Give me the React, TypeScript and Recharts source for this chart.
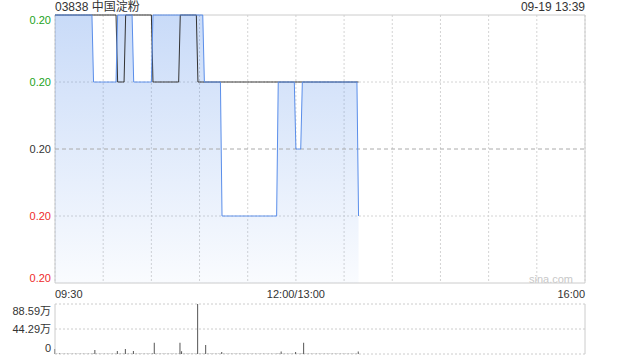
import React from "react";
import {
  ComposedChart,
  Area,
  Line,
  Bar,
  XAxis,
  YAxis,
  CartesianGrid,
  ReferenceLine,
  ReferenceArea,
} from "recharts";

const title = "03838 中国淀粉";
const stamp = "09-19 13:39";
const prevClose = 0.2;

// minutes since 09:30, lunch break removed (330 trading minutes)
const timeTicks = [0, 30, 60, 90, 120, 150, 180, 210, 240, 270, 300, 330];
const timeLabels: Record<number, string> = { 0: "09:30", 150: "12:00/13:00", 330: "16:00" };
const priceTicks = [0.198, 0.199, 0.2, 0.201, 0.202];
const pctTicks = [-1, -0.5, 0, 0.5, 1];
const volTicks = [0, 44.29, 88.59];

// last price per minute
const prices = [
  0.202, 0.202, 0.202, 0.202, 0.202, 0.202, 0.202, 0.202, 0.202, 0.202,
  0.202, 0.202, 0.202, 0.202, 0.202, 0.202, 0.202, 0.202, 0.202, 0.202,
  0.202, 0.202, 0.202, 0.202, 0.201, 0.201, 0.201, 0.201, 0.201, 0.201,
  0.201, 0.201, 0.201, 0.201, 0.201, 0.201, 0.201, 0.201, 0.201, 0.202,
  0.202, 0.202, 0.202, 0.202, 0.202, 0.202, 0.202, 0.202, 0.202, 0.201,
  0.201, 0.201, 0.201, 0.201, 0.201, 0.201, 0.201, 0.201, 0.201, 0.201,
  0.201, 0.202, 0.202, 0.202, 0.202, 0.202, 0.202, 0.202, 0.202, 0.202,
  0.202, 0.202, 0.202, 0.202, 0.202, 0.202, 0.202, 0.202, 0.202, 0.202,
  0.202, 0.202, 0.202, 0.202, 0.202, 0.202, 0.202, 0.202, 0.202, 0.202,
  0.202, 0.202, 0.202, 0.201, 0.201, 0.201, 0.201, 0.201, 0.201, 0.201,
  0.201, 0.201, 0.201, 0.201, 0.199, 0.199, 0.199, 0.199, 0.199, 0.199,
  0.199, 0.199, 0.199, 0.199, 0.199, 0.199, 0.199, 0.199, 0.199, 0.199,
  0.199, 0.199, 0.199, 0.199, 0.199, 0.199, 0.199, 0.199, 0.199, 0.199,
  0.199, 0.199, 0.199, 0.199, 0.199, 0.199, 0.199, 0.199, 0.199, 0.201,
  0.201, 0.201, 0.201, 0.201, 0.201, 0.201, 0.201, 0.201, 0.201, 0.201,
  0.2, 0.2, 0.2, 0.2, 0.201, 0.201, 0.201, 0.201, 0.201, 0.201,
  0.201, 0.201, 0.201, 0.201, 0.201, 0.201, 0.201, 0.201, 0.201, 0.201,
  0.201, 0.201, 0.201, 0.201, 0.201, 0.201, 0.201, 0.201, 0.201, 0.201,
  0.201, 0.201, 0.201, 0.201, 0.201, 0.201, 0.201, 0.201, 0.201, 0.199,
];

// average price per minute
const avgPrices = [
  0.202, 0.202, 0.202, 0.202, 0.202, 0.202, 0.202, 0.202, 0.202, 0.202,
  0.202, 0.202, 0.202, 0.202, 0.202, 0.202, 0.202, 0.202, 0.202, 0.202,
  0.202, 0.202, 0.202, 0.202, 0.202, 0.202, 0.202, 0.202, 0.202, 0.202,
  0.202, 0.202, 0.202, 0.202, 0.202, 0.202, 0.202, 0.202, 0.202, 0.201,
  0.201, 0.201, 0.201, 0.201, 0.202, 0.202, 0.202, 0.202, 0.202, 0.202,
  0.202, 0.202, 0.202, 0.202, 0.202, 0.202, 0.202, 0.202, 0.202, 0.202,
  0.202, 0.201, 0.201, 0.201, 0.201, 0.201, 0.201, 0.201, 0.201, 0.201,
  0.201, 0.201, 0.201, 0.201, 0.201, 0.201, 0.201, 0.201, 0.202, 0.202,
  0.202, 0.202, 0.202, 0.202, 0.202, 0.202, 0.202, 0.202, 0.202, 0.201,
  0.201, 0.201, 0.201, 0.201, 0.201, 0.201, 0.201, 0.201, 0.201, 0.201,
  0.201, 0.201, 0.201, 0.201, 0.201, 0.201, 0.201, 0.201, 0.201, 0.201,
  0.201, 0.201, 0.201, 0.201, 0.201, 0.201, 0.201, 0.201, 0.201, 0.201,
  0.201, 0.201, 0.201, 0.201, 0.201, 0.201, 0.201, 0.201, 0.201, 0.201,
  0.201, 0.201, 0.201, 0.201, 0.201, 0.201, 0.201, 0.201, 0.201, 0.201,
  0.201, 0.201, 0.201, 0.201, 0.201, 0.201, 0.201, 0.201, 0.201, 0.201,
  0.201, 0.201, 0.201, 0.201, 0.201, 0.201, 0.201, 0.201, 0.201, 0.201,
  0.201, 0.201, 0.201, 0.201, 0.201, 0.201, 0.201, 0.201, 0.201, 0.201,
  0.201, 0.201, 0.201, 0.201, 0.201, 0.201, 0.201, 0.201, 0.201, 0.201,
  0.201, 0.201, 0.201, 0.201, 0.201, 0.201, 0.201, 0.201, 0.201, 0.201,
];

// volume per minute, in 万
const volumes = [
  8.9, 0.6, 0.5, 0.7, 0.4, 0.6, 0.5, 0.4, 0.6, 0.5,
  0.5, 0.4, 0.6, 0.5, 0.4, 0.5, 0.6, 0.4, 0.5, 0.6,
  0.4, 0.5, 0.6, 0.5, 0.8, 7.0, 0.5, 0.4, 0.6, 0.5,
  0.5, 0.4, 0.6, 0.5, 0.4, 0.5, 0.6, 0.4, 0.5, 5.3,
  0.5, 0.6, 0.4, 0.5, 9.0, 0.6, 0.5, 0.4, 0.6, 5.3,
  0.5, 0.4, 0.6, 0.5, 0.4, 0.5, 0.6, 0.4, 0.5, 0.6,
  0.4, 0.8, 20.0, 0.5, 0.6, 0.4, 0.5, 0.6, 0.4, 0.5,
  0.6, 0.4, 0.5, 0.6, 0.4, 0.5, 0.6, 0.4, 20.0, 5.0,
  0.5, 0.4, 0.6, 0.5, 0.4, 0.5, 0.6, 0.4, 0.5, 88.59,
  0.6, 0.5, 0.4, 0.6, 16.0, 0.5, 0.4, 0.6, 0.5, 0.4,
  0.5, 0.6, 0.4, 0.5, 3.5, 0.6, 0.4, 0.5, 0.6, 0.4,
  0.5, 0.6, 0.4, 0.5, 0.6, 0.4, 0.5, 0.6, 0.4, 0.5,
  0.6, 0.4, 0.5, 0.6, 0.4, 0.5, 0.6, 0.4, 0.5, 0.6,
  0.4, 0.5, 0.6, 0.4, 0.5, 0.6, 0.4, 0.5, 0.6, 0.8,
  0.5, 4.5, 0.4, 0.6, 0.5, 0.4, 0.6, 0.5, 0.4, 0.6,
  3.5, 0.5, 0.4, 0.6, 0.8, 20.0, 0.5, 0.4, 0.6, 0.5,
  0.4, 0.5, 0.6, 0.4, 0.5, 0.6, 0.4, 0.5, 0.6, 0.4,
  0.5, 0.6, 0.4, 0.5, 0.6, 0.4, 0.5, 0.6, 0.4, 0.5,
  0.6, 0.4, 0.5, 0.6, 0.4, 0.5, 0.6, 0.4, 0.5, 4.5,
];

const rows = prices.map((p, i) => ({ m: i, price: p, avg: avgPrices[i], vol: volumes[i] }));

const GREEN = "#22a322";
const RED = "#ee2a2a";
const DARK = "#333";
const FONT = "'Liberation Sans', Arial, 'Noto Sans CJK SC', sans-serif";

const tone = (v: number, mid: number) => (v > mid + 1e-9 ? GREEN : v < mid - 1e-9 ? RED : DARK);

// top/bottom labels are pulled inside the plot like the original
const edgeShift = (v: number, ticks: number[], down: number, up: number) =>
  v === ticks[ticks.length - 1] ? down : v === ticks[0] ? up : 0;

const PriceTick = (props: any) => {
  const { x, y, payload } = props;
  const v = payload.value as number;
  return (
    <text x={x} y={y + edgeShift(v, priceTicks, 5, -5)} textAnchor="end" dominantBaseline="central" fontSize={11} fill={tone(v, prevClose)}>
      {v.toFixed(2)}
    </text>
  );
};

const PctTick = (props: any) => {
  const { x, y, payload } = props;
  const v = payload.value as number;
  const label = (v > 0 ? "+" : "") + v.toFixed(2) + "%";
  return (
    <text x={x} y={y + edgeShift(v, pctTicks, 5, -5)} textAnchor="start" dominantBaseline="central" fontSize={11} fill={tone(v, 0)}>
      {label}
    </text>
  );
};

const TimeTick = (props: any) => {
  const { x, y, payload } = props;
  const v = payload.value as number;
  const label = timeLabels[v];
  if (!label) return <g />;
  const anchor = v === timeTicks[0] ? "start" : v === timeTicks[timeTicks.length - 1] ? "end" : "middle";
  return (
    <text x={x} y={y + 11} textAnchor={anchor} dominantBaseline="central" fontSize={11} fill={DARK}>
      {label}
    </text>
  );
};

const VolTick = (props: any) => {
  const { x, y, payload } = props;
  const v = payload.value as number;
  const label = v === 0 ? "0" : v.toFixed(2) + "万";
  return (
    <text x={x} y={y + edgeShift(v, volTicks, 7, -6)} textAnchor="end" dominantBaseline="central" fontSize={11} fill={DARK}>
      {label}
    </text>
  );
};

export default function App() {
  return (
    <div style={{ position: "absolute", left: 0, top: 0, width: 640, height: 360, background: "#fff", fontFamily: FONT }}>
      <div style={{ position: "absolute", left: 55, top: 0, fontSize: 12, lineHeight: "15px", color: DARK }}>{title}</div>
      <div style={{ position: "absolute", right: 55, top: 0, fontSize: 12, lineHeight: "15px", color: DARK }}>{stamp}</div>

      <div style={{ position: "absolute", left: 0, top: 0 }}>
        <ComposedChart width={640} height={300} data={rows} margin={{ top: 15, right: 0, left: 0, bottom: 0 }}>
          <defs>
            <linearGradient id="priceFill" x1="0" y1="0" x2="0" y2="1">
              <stop offset="0%" stopColor="#4a86e8" stopOpacity={0.3} />
              <stop offset="100%" stopColor="#4a86e8" stopOpacity={0.03} />
            </linearGradient>
          </defs>
          <CartesianGrid
            stroke="#d4d4d4"
            strokeDasharray="2 2"
            verticalValues={timeTicks}
            horizontalValues={[0.199, 0.201]}
          />
          <XAxis
            dataKey="m"
            type="number"
            domain={[0, 330]}
            ticks={timeTicks}
            interval={0}
            tick={<TimeTick />}
            tickLine={false}
            axisLine={false}
            tickSize={0}
            tickMargin={0}
            height={17}
          />
          <YAxis
            domain={[0.198, 0.202]}
            ticks={priceTicks}
            interval={0}
            width={55}
            tick={<PriceTick />}
            tickLine={false}
            axisLine={false}
            tickSize={0}
            tickMargin={4}
          />
          <YAxis
            yAxisId="pct"
            orientation="right"
            domain={[-1, 1]}
            ticks={pctTicks}
            interval={0}
            width={55}
            tick={<PctTick />}
            tickLine={false}
            axisLine={false}
            tickSize={0}
            tickMargin={4}
          />
          <ReferenceArea x1={0} x2={330} y1={0.198} y2={0.202} fill="none" stroke="#ccc" strokeWidth={1} />
          <Area
            type="linear"
            dataKey="price"
            stroke="none"
            fill="url(#priceFill)"
            fillOpacity={1}
            dot={false}
            activeDot={false}
            isAnimationActive={false}
          />
          <ReferenceLine y={prevClose} stroke="#aaa" strokeDasharray="4 3" />
          <Line type="linear" dataKey="avg" stroke="#333" strokeWidth={1} dot={false} activeDot={false} isAnimationActive={false} />
          <Line type="linear" dataKey="price" stroke="#5a8eea" strokeWidth={1} dot={false} activeDot={false} isAnimationActive={false} />
          <text x={573} y={279} textAnchor="end" dominantBaseline="central" fontSize={11} fill="#c8c8c8">
            sina.com
          </text>
        </ComposedChart>
      </div>

      <div style={{ position: "absolute", left: 0, top: 300 }}>
        <ComposedChart width={640} height={60} data={rows} margin={{ top: 4, right: 55, left: 0, bottom: 6 }}>
          <CartesianGrid vertical={false} stroke="#ccc" strokeDasharray="2 2" horizontalValues={volTicks} />
          <XAxis dataKey="m" type="number" domain={[0, 330]} hide />
          <YAxis
            domain={[0, 88.59]}
            ticks={volTicks}
            interval={0}
            width={55}
            tick={<VolTick />}
            tickLine={false}
            axisLine={false}
            tickSize={0}
            tickMargin={4}
          />
          <ReferenceLine x={0} stroke="#ccc" />
          <ReferenceLine x={330} stroke="#ccc" />
          <Bar dataKey="vol" fill="#555" barSize={1} isAnimationActive={false} />
        </ComposedChart>
      </div>
    </div>
  );
}
